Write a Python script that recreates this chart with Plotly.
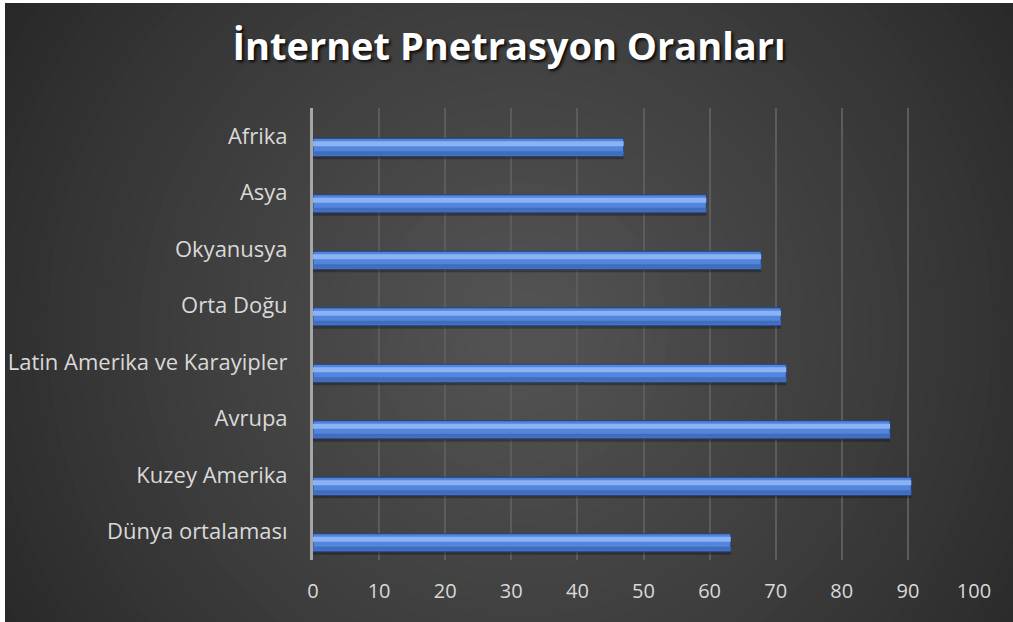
import plotly.graph_objects as go

categories = ["Afrika", "Asya", "Okyanusya", "Orta Doğu",
              "Latin Amerika ve Karayipler", "Avrupa", "Kuzey Amerika",
              "Dünya ortalaması"]
values = [47.0, 59.5, 67.8, 70.8, 71.6, 87.3, 90.5, 63.2]
x_ticks = [0, 10, 20, 30, 40, 50, 60, 70, 80, 90, 100]
title_text = "İnternet Pnetrasyon Oranları"

W, H = 1013, 622
L, R, T, B = 313, 974, 108, 560
pw, ph = R - L, B - T
cat_px = ph / len(categories)

def px_x(p):
    return (p - L) / pw

def px_y(p):
    return (B - p) / ph

FONT = "Open Sans"

bar_w = 18 / cat_px
bar_off = (11 / cat_px) - bar_w / 2

fig = go.Figure()

# shadow
fig.add_trace(go.Bar(y=categories, x=values, orientation="h",
                     width=bar_w, offset=bar_off + 3 / cat_px,
                     marker=dict(color="rgba(0,0,0,0.28)", line=dict(width=0)),
                     hoverinfo="skip", showlegend=False))
# main bar
fig.add_trace(go.Bar(y=categories, x=values, orientation="h",
                     width=bar_w, offset=bar_off,
                     marker=dict(color="#5285dc", line=dict(color="#23427f", width=1)),
                     showlegend=False, name=""))
# highlight band
fig.add_trace(go.Bar(y=categories, x=values, orientation="h",
                     width=5 / cat_px, offset=bar_off + 3 / cat_px,
                     marker=dict(color="#8bb2f4", line=dict(width=0)),
                     hoverinfo="skip", showlegend=False))
# lower darker band
fig.add_trace(go.Bar(y=categories, x=values, orientation="h",
                     width=4 / cat_px, offset=bar_off + 13 / cat_px,
                     marker=dict(color="#426dbc", line=dict(width=0)),
                     hoverinfo="skip", showlegend=False))

shapes = []
# radial gradient rings
cx, cy = 520, 330
rmax = 720
n = 45
c_out = (28, 28, 28)
c_in = (82, 82, 82)
for i in range(n):
    t = i / (n - 1)
    r = rmax * (1 - t) + 40 * t
    col = tuple(int(c_out[k] + (c_in[k] - c_out[k]) * (t ** 0.8)) for k in range(3))
    shapes.append(dict(type="circle", xref="paper", yref="paper",
                       x0=px_x(cx - r), x1=px_x(cx + r),
                       y0=px_y(cy + r), y1=px_y(cy - r),
                       fillcolor="rgb(%d,%d,%d)" % col, line=dict(width=0),
                       layer="below"))
# white border strips
shapes.append(dict(type="rect", xref="paper", yref="paper",
                   x0=px_x(0), x1=px_x(5), y0=px_y(H), y1=px_y(0),
                   fillcolor="white", line=dict(width=0), layer="below"))
shapes.append(dict(type="rect", xref="paper", yref="paper",
                   x0=px_x(0), x1=px_x(W), y0=px_y(3), y1=px_y(0),
                   fillcolor="white", line=dict(width=0), layer="below"))

fig.update_layout(
    width=W, height=H,
    margin=dict(l=L, r=W - R, t=T, b=H - B, autoexpand=False),
    paper_bgcolor="#262626",
    plot_bgcolor="rgba(0,0,0,0)",
    barmode="overlay",
    shapes=shapes,
    title=dict(text="<b>" + title_text + "</b>", xref="container", x=509 / W,
               xanchor="center", yref="container", y=1 - 47 / H, yanchor="middle",
               font=dict(family=FONT, size=38, color="#ffffff",
                         shadow="2px 2px 3px rgba(0,0,0,0.85)")),
    xaxis=dict(range=[0, 100], tickvals=x_ticks, ticktext=[str(v) for v in x_ticks],
               showgrid=True, gridcolor="#5c5c5c", gridwidth=2,
               zeroline=False, showline=False, ticks="", automargin=False,
               tickfont=dict(family=FONT, size=20, color="#d9d9d9"),
               ticklabelstandoff=17, fixedrange=True),
    yaxis=dict(autorange="reversed", showgrid=False, zeroline=False,
               showline=True, linecolor="#a6a6a6", linewidth=3, ticks="",
               automargin=False,
               tickfont=dict(family=FONT, size=22, color="#d9d9d9"),
               ticklabelstandoff=18, fixedrange=True),
    font=dict(family=FONT),
)

fig.write_html("out.html", config={"displayModeBar": False},
               post_script="document.body.style.margin='0';document.body.style.overflow='hidden';")
